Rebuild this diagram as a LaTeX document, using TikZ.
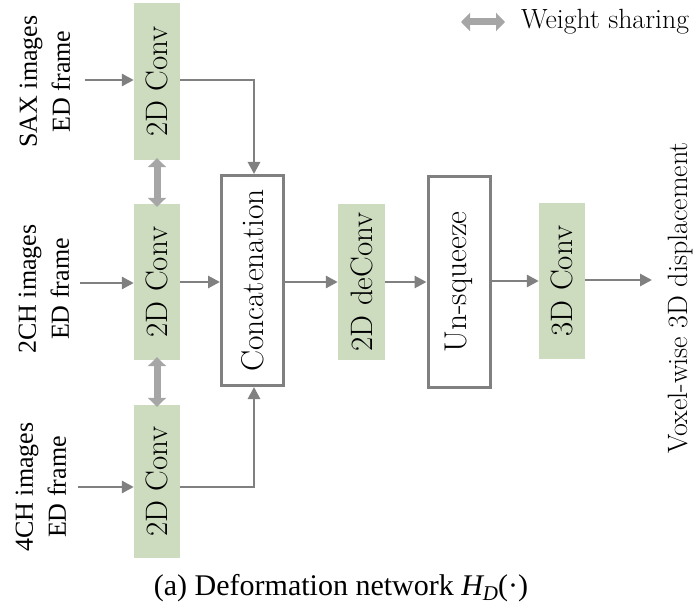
\documentclass[tikz,border=0pt]{standalone}
\usepackage{fontspec}
\newfontfamily\tnr{Liberation Serif}
\usetikzlibrary{arrows.meta}
\definecolor{boxgreen}{RGB}{205,220,191}
\definecolor{linegray}{RGB}{128,128,128}
\definecolor{sharegray}{RGB}{166,166,166}
\begin{document}
\begin{tikzpicture}[x=1pt,y=-1pt,
  convbox/.style={fill=boxgreen,draw=none,minimum width=46pt,minimum height=156pt,inner sep=0pt,
    font=\fontsize{31}{36}\selectfont},
  opbox/.style={fill=white,draw=linegray,line width=3pt,minimum width=62pt,minimum height=210pt,inner sep=0pt,
    font=\fontsize{31.5}{36}\selectfont},
  flow/.style={draw=linegray,line width=2.8pt,-{Triangle[length=12pt,width=12pt]}},
  share/.style={draw=sharegray,line width=7pt,{Triangle[length=9pt,width=18pt]}-{Triangle[length=9pt,width=18pt]}},
  inlabel/.style={rotate=90,align=center,inner sep=0pt,font=\tnr\fontsize{26}{33}\selectfont},
  ]
\useasboundingbox (0,0) rectangle (695,609);
% boxes
\node[convbox,minimum height=157pt] (c1) at (157,81.5) {\rotatebox{90}{2D Conv}};
\node[convbox] (c2) at (157,282) {\rotatebox{90}{2D Conv}};
\node[convbox,minimum height=153pt] (c3) at (157,481.5) {\rotatebox{90}{2D Conv}};
\node[opbox] (cat) at (252.5,280.5) {\rotatebox{90}{Concatenation}};
\node[convbox,minimum width=47pt] (dc) at (361.5,282) {\rotatebox{90}{2D deConv}};
\node[opbox] (uq) at (459,282) {\rotatebox{90}{Un-squeeze}};
\node[convbox] (c3d) at (562,281) {\rotatebox{90}{3D Conv}};
% input labels
\node[inlabel] (l1) at (45,81.5) {SAX images\\ED frame};
\node[inlabel] (l2) at (44,289) {2CH images\\ED frame};
\node[inlabel] (l3) at (41,487) {4CH images\\ED frame};
\coordinate (i1) at (85,80);
\coordinate (i2) at (80,283);
\coordinate (i3) at (78,487);
\draw[flow] (i1) -- (i1 -| c1.west);
\draw[flow] (i2) -- (i2 -| c2.west);
\draw[flow] (i3) -- (i3 -| c3.west);
% to concatenation
\draw[flow] (c1.east |- i1) -| ([xshift=1.5pt]cat.north);
\draw[flow] (c2.east) -- (c2.east -| cat.west);
\draw[flow] (c3.east |- i3) -| ([xshift=1.5pt]cat.south);
% weight sharing
\draw[share] ([yshift=2pt]c1.south) -- ([yshift=-3pt]c2.north);
\draw[share] ([yshift=3pt]c2.south) -- ([yshift=-2pt]c3.north);
% rest of chain
\draw[flow] (cat.east |- dc.west) -- (dc.west);
\draw[flow] (dc.east) -- (dc.east -| uq.west);
\draw[flow] (uq.east |- c3d.west) -- (c3d.west);
\coordinate (o) at (652,280);
\draw[flow] (c3d.east |- o) -- (o);
\node[rotate=90,inner sep=0pt,font=\fontsize{28}{33}\selectfont] (out) at (681,298) {Voxel-wise 3D displacement};
% legend
\coordinate (la) at (461,22);
\coordinate (lb) at (505,22);
\draw[share] (la) -- (lb);
\node[anchor=west,inner sep=0pt,font=\fontsize{27.8}{32}\selectfont] (lt) at (521,22) {Weight sharing};
% caption
\node[inner sep=0pt,font=\tnr\fontsize{30}{35}\selectfont] (cap) at (341,588) {(a) Deformation network {\itshape H}\raisebox{-0.35ex}{\fontsize{21}{24}\selectfont\itshape D}(·)};
\end{tikzpicture}
\end{document}
